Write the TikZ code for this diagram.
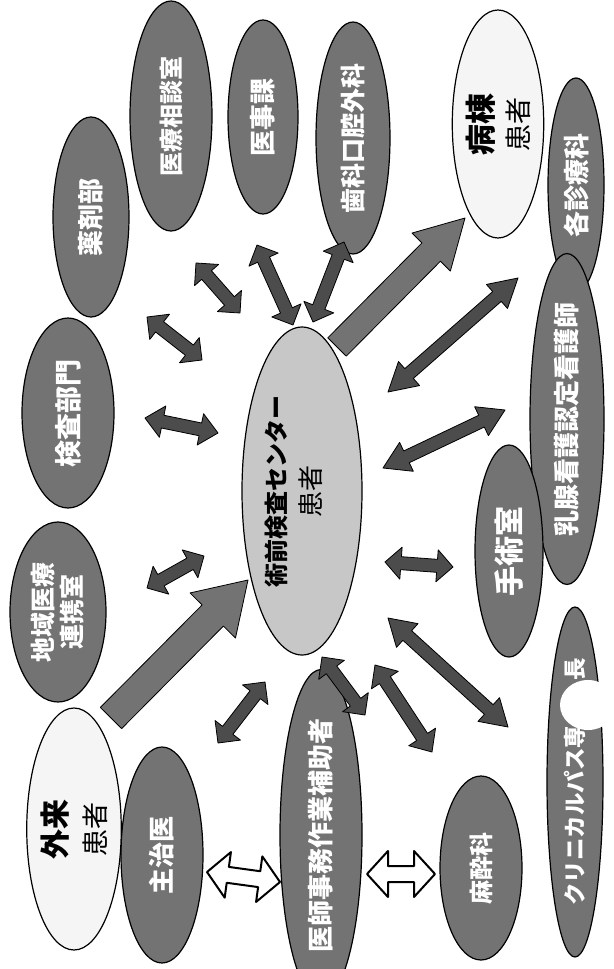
\documentclass[tikz,border=0pt]{standalone}
\usepackage{fontspec}
\setmainfont{Noto Sans CJK JP}
\usetikzlibrary{calc,shapes.geometric}
\colorlet{unitgray}{black!55}
\colorlet{arrowgray}{black!70}

% block arrow with two heads: style, from, to, head length, head half width, shaft half width
\newcommand{\dblarrow}[6][link]{%
  \draw[#1] (#2)
    -- ($(#2)!#4!(#3)!#5!90:(#3)$) -- ($(#2)!#4!(#3)!#6!90:(#3)$)
    -- ($(#3)!#4!(#2)!#6!-90:(#2)$) -- ($(#3)!#4!(#2)!#5!-90:(#2)$)
    -- (#3)
    -- ($(#3)!#4!(#2)!#5!90:(#2)$) -- ($(#3)!#4!(#2)!#6!90:(#2)$)
    -- ($(#2)!#4!(#3)!#6!-90:(#3)$) -- ($(#2)!#4!(#3)!#5!-90:(#3)$)
    -- cycle;}
% block arrow with one head: style, tail, tip, head length, head half width, shaft half width
\newcommand{\sglarrow}[6][bigarrow]{%
  \draw[#1] ($(#2)!#6!90:(#3)$)
    -- ($(#3)!#4!(#2)!#6!-90:(#2)$) -- ($(#3)!#4!(#2)!#5!-90:(#2)$)
    -- (#3)
    -- ($(#3)!#4!(#2)!#5!90:(#2)$) -- ($(#3)!#4!(#2)!#6!90:(#2)$)
    -- ($(#2)!#6!-90:(#3)$) -- cycle;}

\begin{document}
\begin{tikzpicture}[x=1pt, y=-1pt,
unit/.style={ellipse, draw, line width=1.2pt, fill=unitgray, text=white, rotate=90, inner sep=0pt, align=center},
patient/.style={unit, fill=black!4, text=black},
hub/.style={unit, fill=black!22, text=black},
dims/.style 2 args={minimum width=#1, minimum height=#2},
fs/.style={font=\fontsize{#1}{#1}\selectfont\bfseries},
link/.style={draw=black, line width=0.8pt, fill=arrowgray, line join=round},
hollow/.style={draw=black, line width=2pt, fill=white, line join=round},
bigarrow/.style={draw=black, line width=0.8pt, fill=black!55, line join=round}]
    \useasboundingbox (0,0) rectangle (613,969);

    % Draw the centre and the units round it
    \node[hub, dims={328pt}{120pt}, text height=40pt, font=\fontsize{24}{35}\selectfont\bfseries] (hub) at (302,491)
        {術前検査センター\\\fontsize{26}{35}\selectfont\mdseries 患者};
    \node[unit, dims={200pt}{76pt}, fs=26] (yakuzai) at (91,217) {薬剤部};
    \node[unit, dims={230pt}{82pt}, fs=24] (soudan) at (171,116) {医療相談室};
    \node[unit, dims={194pt}{70pt}, fs=26] (iji) at (263,117) {医事課};
    \node[unit, dims={232pt}{74pt}, fs=25] (shika) at (353,138) {歯科口腔外科};
    \node[patient, dims={228pt}{90pt}, font=\fontsize{31}{36}\selectfont] (byoutou) at (498,124)
        {\textbf{病棟}\\\fontsize{27}{36}\selectfont 患者};
    \node[unit, dims={214pt}{56pt}, fs=26] (kakushin) at (576,185) {各診療科};
    \node[unit, dims={258pt}{74pt}, fs=26] (nyusen) at (567,419) {乳腺看護認定看護師};
    \node[unit, dims={212pt}{68pt}, fs=30] (shujutsu) at (509,551) {手術室};
    \node[unit, dims={306pt}{56pt}, fs=22.5] (path) at (575,782) {クリニカルパス専\hspace{2em}長};
    \node[unit, dims={184pt}{82pt}, fs=24] (masui) at (481,868) {麻酔科};
    \node[unit, dims={250pt}{82pt}, fs=26] (jimu) at (321,835) {医師事務作業補助者};
    \node[unit, dims={216pt}{82pt}, fs=26] (shuji) at (162,855) {主治医};
    \node[patient, dims={242pt}{76pt}, font=\fontsize{30}{39}\selectfont] (gairai) at (74,829)
        {\textbf{外来}\\\fontsize{27}{39}\selectfont 患者};
    \node[unit, dims={180pt}{96pt}, font=\fontsize{25}{29}\selectfont\bfseries] (chiiki) at (58,612)
        {地域医療\\連携室};
    \node[unit, dims={190pt}{92pt}, fs=27] (kensa) at (68,413) {検査部門};

    % white patch over the path label
    \fill[white] (588,705) ellipse (28 and 25);

    % arrow ends
    \coordinate (yakuzai1) at (147,317);  \coordinate (yakuzai2) at (202,360);
    \coordinate (soudan1) at (196,263);   \coordinate (soudan2) at (240,313);
    \coordinate (iji1) at (257,245);      \coordinate (iji2) at (293,325);
    \coordinate (shika1) at (344,242);    \coordinate (shika2) at (313,322);
    \coordinate (kakushin1) at (518,278); \coordinate (kakushin2) at (388,392);
    \coordinate (nyusen1) at (505,410);   \coordinate (nyusen2) at (383,468);
    \coordinate (shujutsu1) at (453,567); \coordinate (shujutsu2) at (385,562);
    \coordinate (path1) at (508,727);     \coordinate (path2) at (388,618);
    \coordinate (masui1) at (432,752);    \coordinate (masui2) at (375,665);
    \coordinate (jimu1) at (365,715);     \coordinate (jimu2) at (322,657);
    \coordinate (shuji1) at (218,743);    \coordinate (shuji2) at (265,682);
    \coordinate (chiiki1) at (147,588);   \coordinate (chiiki2) at (204,556);
    \coordinate (kensa1) at (145,418);    \coordinate (kensa2) at (218,433);
    \coordinate (shuji3) at (207,872);    \coordinate (jimu3) at (280,882);
    \coordinate (jimu4) at (367,874);     \coordinate (masui3) at (435,874);
    \coordinate (gairai1) at (111,718);   \coordinate (hub1) at (248,580);
    \coordinate (hub2) at (337,347);      \coordinate (byoutou1) at (465,218);

    % Draw arrows
    \foreach \n/\h in {yakuzai/16pt, soudan/16pt, iji/16pt, shika/16pt, kakushin/28pt,
        nyusen/26pt, shujutsu/16pt, path/26pt, masui/18pt, jimu/16pt, shuji/16pt,
        chiiki/16pt, kensa/18pt}
        {\dblarrow{\n1}{\n2}{\h}{16pt}{6.5pt}}
    \dblarrow[hollow]{shuji3}{jimu3}{21pt}{23pt}{8pt}
    \dblarrow[hollow]{jimu4}{masui3}{21pt}{23pt}{8pt}
    \sglarrow{gairai1}{hub1}{50pt}{32pt}{15pt}
    \sglarrow{hub2}{byoutou1}{48pt}{27pt}{13pt}

\end{tikzpicture}
\end{document}
